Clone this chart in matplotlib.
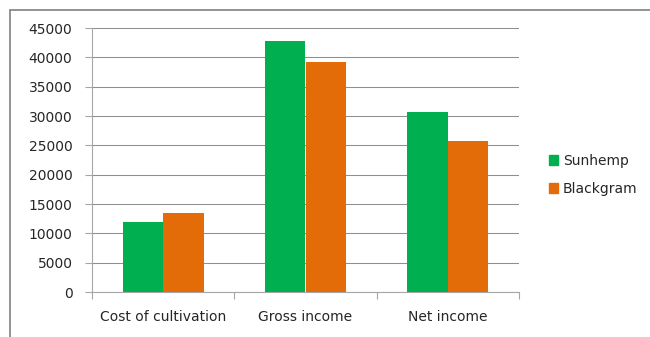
import matplotlib.pyplot as plt
import numpy as np
from matplotlib.patches import Rectangle, Patch

categories = ['Cost of cultivation', 'Gross income', 'Net income']
sunhemp = [11950, 42800, 30750]
blackgram = [13450, 39250, 25700]
series_names = ['Sunhemp', 'Blackgram']
colors = ['#00b050', '#e36c09']
y_ticks = list(range(0, 45001, 5000))

plt.rcParams['font.family'] = ['DejaVu Sans']

fig = plt.figure(figsize=(6.5, 3.37), dpi=100)
W, H = 650, 337
ax = fig.add_axes([92 / W, 1 - 292 / H, (519 - 92) / W, (292 - 28) / H])

x = np.arange(len(categories))
w = 1 / 3.5  # excel gap width 150%
ax.bar(x - w / 2, sunhemp, w, color=colors[0], label=series_names[0], zorder=3)
ax.bar(x + w / 2, blackgram, w, color=colors[1], label=series_names[1], zorder=3)

ax.set_xlim(-0.5, len(categories) - 0.5)
ax.set_ylim(0, 45000)
ax.set_yticks(y_ticks)
ax.set_yticklabels([str(v) for v in y_ticks])
ax.set_xticks(x)
ax.set_xticklabels(categories)
ax.set_xticks(np.arange(-0.5, len(categories)), minor=True)

ax.grid(axis='y', color='#8f8f8f', linewidth=0.75, zorder=0)
for s in ['top', 'right']:
    ax.spines[s].set_visible(False)
for s in ['left', 'bottom']:
    ax.spines[s].set_color('#a6a6a6')
    ax.spines[s].set_linewidth(0.8)

ax.tick_params(axis='y', length=5, width=0.8, color='#a6a6a6', pad=9,
               labelsize=10, labelcolor='#262626')
ax.tick_params(axis='x', which='major', length=0, pad=13,
               labelsize=10, labelcolor='#262626')
ax.tick_params(axis='x', which='minor', length=5, width=0.8, color='#a6a6a6')

handles = [Patch(color=c) for c in colors]
fig.legend(handles, series_names, loc='center left',
           bbox_to_anchor=(536 / W, 1 - 175 / H), frameon=False,
           fontsize=10, handlelength=0.7, handleheight=0.7,
           handletextpad=0.35, labelspacing=1.0, labelcolor='#262626')

fig.patches.append(Rectangle((10 / W, -0.1), 1.2, 1 - 10.5 / H + 0.1,
                             transform=fig.transFigure, fill=False,
                             edgecolor='#808080', linewidth=1.2))

fig.savefig('out.png', dpi=100)
